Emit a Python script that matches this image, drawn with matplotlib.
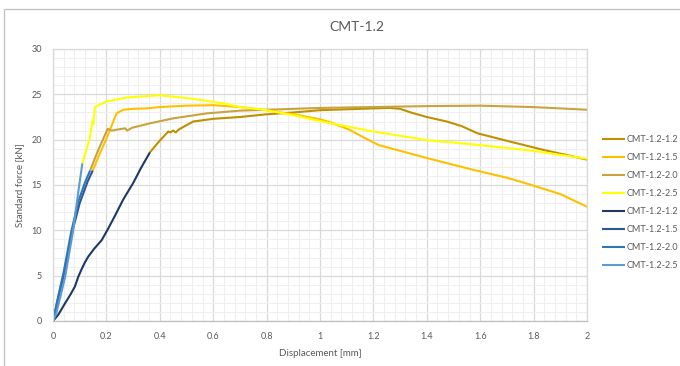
"""
plot.py - Standard force vs displacement, CMT-1.2 series
"""

import matplotlib
matplotlib.use("Agg")
import matplotlib.pyplot as plt
from matplotlib.patches import Rectangle
from matplotlib.ticker import MultipleLocator, FuncFormatter

plt.rcParams["font.family"] = ["Lato", "DejaVu Sans"]

# --- data (displacement mm, force kN) ---
labels = ["CMT-1.2-1.2", "CMT-1.2-1.5", "CMT-1.2-2.0", "CMT-1.2-2.5",
          "CMT-1.2-1.2", "CMT-1.2-1.5", "CMT-1.2-2.0", "CMT-1.2-2.5"]

# plastic part (gold tones)
x_g12 = [0.363, 0.40, 0.432, 0.44, 0.45, 0.46, 0.47, 0.50, 0.525, 0.6, 0.7, 0.8,
         0.9, 1.0, 1.1, 1.2, 1.26, 1.30, 1.34, 1.40, 1.475, 1.53, 1.59, 1.71,
         1.84, 1.94, 2.0]
y_g12 = [18.6, 19.9, 20.9, 20.8, 21.0, 20.8, 21.1, 21.6, 22.0, 22.3, 22.5, 22.8,
         23.0, 23.25, 23.35, 23.45, 23.5, 23.4, 23.0, 22.5, 22.0, 21.5, 20.7, 19.8,
         18.85, 18.2, 17.8]

x_g15 = [0.149, 0.17, 0.20, 0.215, 0.238, 0.263, 0.30, 0.35, 0.40, 0.50, 0.60,
         0.70, 0.80, 0.90, 1.0, 1.04, 1.11, 1.16, 1.22, 1.29, 1.41, 1.57, 1.70,
         1.77, 1.90, 2.0]
y_g15 = [16.6, 18.1, 20.1, 21.2, 22.9, 23.3, 23.4, 23.45, 23.6, 23.75, 23.8,
         23.6, 23.25, 22.8, 22.25, 21.9, 21.1, 20.3, 19.4, 18.85, 17.9, 16.7, 15.8,
         15.2, 14.0, 12.6]

x_g20 = [0.139, 0.17, 0.205, 0.22, 0.238, 0.27, 0.278, 0.295, 0.363, 0.45, 0.576,
         0.70, 0.80, 1.0, 1.2, 1.4, 1.6, 1.79, 1.9, 2.0]
y_g20 = [16.6, 18.9, 21.2, 21.0, 21.1, 21.25, 21.0, 21.3, 21.8, 22.35, 22.9,
         23.2, 23.3, 23.5, 23.6, 23.7, 23.75, 23.6, 23.45, 23.3]

x_g25 = [0.11, 0.139, 0.145, 0.148, 0.151, 0.157, 0.20, 0.276, 0.40, 0.513,
         0.638, 0.70, 0.80, 0.90, 1.04, 1.20, 1.40, 1.60, 1.79, 2.0]
y_g25 = [17.4, 20.3, 21.6, 22.0, 21.7, 23.6, 24.2, 24.65, 24.9, 24.55,
         24.0, 23.6, 23.25, 22.7, 21.8, 20.9, 19.95, 19.4, 18.8, 17.9]

# elastic part (blue tones)
x_b12 = [0.0, 0.02, 0.045, 0.065, 0.082, 0.095, 0.107, 0.12, 0.132, 0.155,
         0.182, 0.205, 0.232, 0.263, 0.30, 0.33, 0.363]
y_b12 = [0.0, 0.7, 1.95, 2.9, 3.8, 4.9, 5.7, 6.5, 7.1, 8.0,
         8.9, 10.1, 11.6, 13.4, 15.2, 16.9, 18.6]

x_b15 = [0.0, 0.02, 0.04, 0.07, 0.10, 0.13, 0.149]
y_b15 = [0.0, 2.6, 5.0, 9.6, 13.0, 15.4, 16.6]

x_b20 = [0.0, 0.02, 0.04, 0.068, 0.095, 0.12, 0.139]
y_b20 = [0.0, 2.8, 5.4, 9.8, 13.2, 15.3, 16.6]

x_b25 = [0.0, 0.012, 0.045, 0.075, 0.095, 0.11]
y_b25 = [0.0, 0.8, 4.8, 9.9, 14.3, 17.4]

colores = ["#BF9000", "#FFC000", "#C9A33E", "#FFFF00",
           "#1F3864", "#2F5597", "#2E75B6", "#5B9BD5"]

series = [(x_g12, y_g12), (x_g15, y_g15), (x_g20, y_g20), (x_g25, y_g25),
          (x_b12, y_b12), (x_b15, y_b15), (x_b20, y_b20), (x_b25, y_b25)]

GRIS_TXT = "#595959"

fig = plt.figure(figsize=(6.8, 3.66), dpi=100)
ax = fig.add_axes([53 / 680, 1 - 321 / 366, (587 - 53) / 680, (321 - 49) / 366])

# chart area border
fig.patches.append(Rectangle((4 / 680, -0.05), 1.0, 1 - 9 / 366 + 0.05,
                             transform=fig.transFigure, fill=False,
                             edgecolor="#BFBFBF", linewidth=0.9))

for (xs, ys), c, lab in zip(series, colores, labels):
    ax.plot(xs, ys, color=c, linewidth=1.5, label=lab, solid_capstyle="butt")

ax.set_xlim(0, 2)
ax.set_ylim(0, 30)
ax.xaxis.set_major_locator(MultipleLocator(0.2))
ax.xaxis.set_minor_locator(MultipleLocator(0.04))
ax.yaxis.set_major_locator(MultipleLocator(5))
ax.yaxis.set_minor_locator(MultipleLocator(1))
ax.xaxis.set_major_formatter(FuncFormatter(lambda v, p: f"{v:.1f}".rstrip("0").rstrip(".")))

ax.grid(which="major", color="#D9D9D9", linewidth=0.9)
ax.grid(which="minor", color="#EFEFEF", linewidth=0.8)
ax.set_axisbelow(True)
for s in ax.spines.values():
    s.set_color("#D9D9D9")
    s.set_linewidth(0.9)
ax.spines["bottom"].set_color("#BFBFBF")

ax.tick_params(which="both", length=0, labelsize=6.5, labelcolor=GRIS_TXT)
ax.tick_params(axis="y", pad=8)
ax.tick_params(axis="x", pad=8)

ax.set_xlabel("Displacement [mm]", fontsize=7, color=GRIS_TXT, labelpad=6)
ax.set_ylabel("Standard force [kN]", fontsize=7, color=GRIS_TXT, labelpad=5)

fig.text(0.525, 1 - 27 / 366, "CMT-1.2", ha="center", va="center",
         fontsize=10, color=GRIS_TXT)

fig.legend(loc="upper left", bbox_to_anchor=(602 / 680, 1 - 135 / 366),
           frameon=False, fontsize=6.5, handlelength=2.6, handletextpad=0.15,
           labelspacing=1.0, borderaxespad=0, borderpad=0)
for t in fig.legends[0].get_texts():
    t.set_color(GRIS_TXT)

plt.savefig("out.png", dpi=100)
plt.close()
